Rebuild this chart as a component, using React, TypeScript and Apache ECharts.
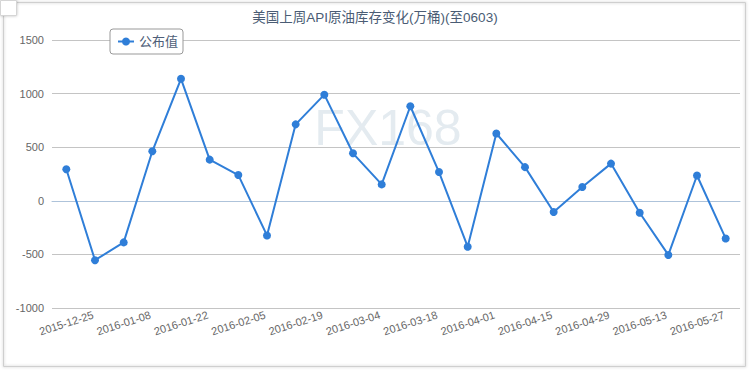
import React, { useEffect, useRef } from "react";
import * as echarts from "echarts";

const TITLE = "美国上周API原油库存变化(万桶)(至0603)";
const SERIES_NAME = "公布值";
const categories = [
  "2015-12-25", "2016-01-01", "2016-01-08", "2016-01-15", "2016-01-22", "2016-01-29",
  "2016-02-05", "2016-02-12", "2016-02-19", "2016-02-26", "2016-03-04", "2016-03-11",
  "2016-03-18", "2016-03-25", "2016-04-01", "2016-04-08", "2016-04-15", "2016-04-22",
  "2016-04-29", "2016-05-06", "2016-05-13", "2016-05-20", "2016-05-27", "2016-06-03",
];
const values = [
  295, -554, -388, 462, 1138, 384,
  240, -323, 713, 990, 443, 153,
  882, 268, -428, 628, 314, -105,
  129, 347, -111, -505, 236, -351,
];
const yMin = -1000;
const yMax = 1500;
const yInterval = 500;
const WATERMARK = "FX168";

export default function App() {
  const ref = useRef<HTMLDivElement>(null);
  useEffect(() => {
    document.body.style.margin = "0";
    if (!ref.current) return;
    const chart = echarts.init(ref.current, null, { renderer: "svg" });
    const font = "'Liberation Sans', Arial, 'Noto Sans CJK SC', sans-serif";
    chart.setOption({
      animation: false,
      backgroundColor: "#fff",
      textStyle: { fontFamily: font },
      title: {
        text: TITLE,
        left: "center",
        top: 6,
        textStyle: { fontSize: 13.5, fontWeight: "normal", color: "#4a5c74", fontFamily: font },
      },
      legend: {
        data: [SERIES_NAME],
        left: 110,
        top: 29,
        padding: [6, 5, 6, 7],
        borderColor: "#999",
        borderWidth: 1,
        borderRadius: 3,
        backgroundColor: "#fff",
        itemWidth: 16,
        itemHeight: 10,
        itemGap: 5,
        textStyle: { fontSize: 13, color: "#4e5e78", fontFamily: font },
      },
      graphic: [
        {
          type: "rect",
          shape: { x: 3.5, y: 2.5, width: 742, height: 364 },
          style: { fill: "none", stroke: "#cfcfcf", lineWidth: 1, shadowBlur: 3, shadowColor: "rgba(0,0,0,0.25)" },
          z: -10,
          silent: true,
        },
        {
          type: "rect",
          shape: { x: 0.5, y: 0.5, width: 16, height: 15 },
          style: { fill: "#fff", stroke: "#d5d5d5", lineWidth: 1, shadowBlur: 3, shadowColor: "rgba(0,0,0,0.25)" },
          z: 10,
          silent: true,
        },
        {
          type: "text",
          x: 388,
          y: 128,
          style: {
            text: WATERMARK,
            fontSize: 50,
            fontFamily: font,
            fill: "#e4ebf0",
            align: "center",
            verticalAlign: "middle",
          },
          z: -5,
          silent: true,
        },
      ],
      grid: { left: 52, right: 10, top: 40, bottom: 62, containLabel: false },
      xAxis: {
        type: "category",
        data: categories,
        boundaryGap: true,
        axisLine: { lineStyle: { color: "#aec3da", width: 1 } },
        axisTick: { interval: 1, length: 5, lineStyle: { color: "#aec3da" } },
        axisLabel: {
          interval: 1,
          rotate: 18,
          align: "center",
          verticalAlign: "middle",
          margin: 15,
          fontSize: 11,
          color: "#666",
          fontFamily: font,
        },
        splitLine: { show: false },
      },
      yAxis: {
        type: "value",
        min: yMin,
        max: yMax,
        interval: yInterval,
        axisLine: { show: false },
        axisTick: { show: false },
        axisLabel: {
          fontSize: 11,
          color: "#666",
          margin: 8,
          fontFamily: font,
          formatter: (v: number) => String(v),
        },
        splitLine: { lineStyle: { color: "#c4c4c4", width: 1 } },
      },
      series: [
        {
          name: SERIES_NAME,
          type: "line",
          data: values,
          symbol: "circle",
          symbolSize: 8,
          lineStyle: { color: "#2f7ed8", width: 2 },
          itemStyle: { color: "#2f7ed8" },
        },
      ],
    });
    return () => chart.dispose();
  }, []);
  return <div ref={ref} style={{ width: 750, height: 370 }} />;
}
